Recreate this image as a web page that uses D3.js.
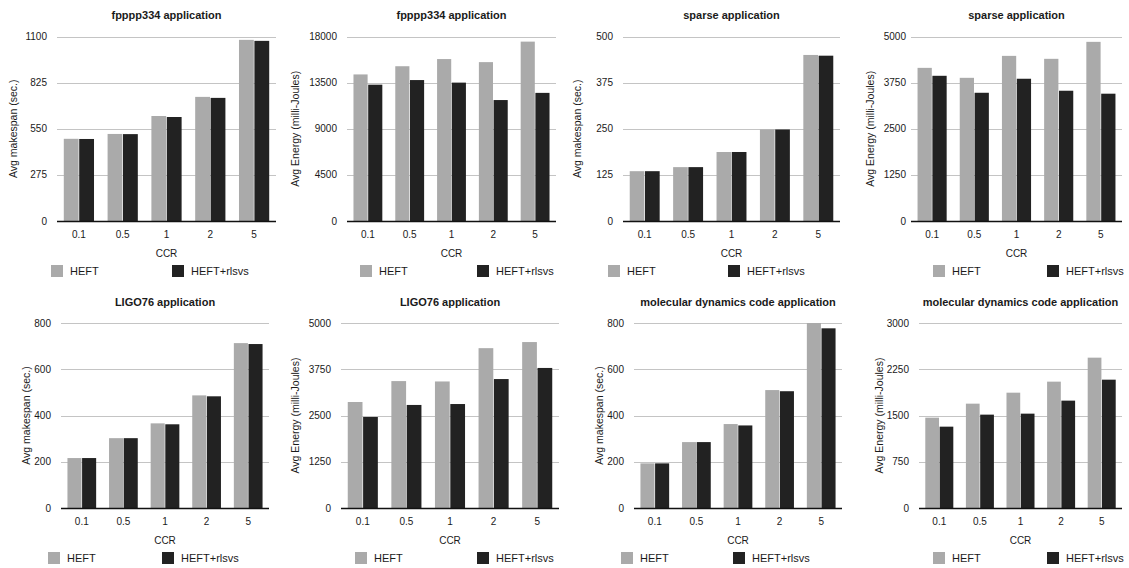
<!DOCTYPE html>
<html>
<head>
<meta charset="utf-8">
<script src="https://cdn.jsdelivr.net/npm/d3@7"></script>
<style>
  html, body { margin: 0; padding: 0; background: #fff; }
  svg text { font-family: "Liberation Sans", Arial, Helvetica, sans-serif; fill: #1a1a1a; }
</style>
</head>
<body>
<script>
const width = 1129;
const height = 568;

// data
const ccr = ['0.1', '0.5', '1', '2', '5'];
const seriesNames = ['HEFT', 'HEFT+rlsvs'];
const seriesColors = ['#aaaaaa', '#222222'];

const titles = [
    'fpppp334 application', 'fpppp334 application',
    'sparse application', 'sparse application',
    'LIGO76 application', 'LIGO76 application',
    'molecular dynamics code application', 'molecular dynamics code application'
];
const yTitles = [
    'Avg makespan (sec.)', 'Avg Energy (milli-Joules)',
    'Avg makespan (sec.)', 'Avg Energy (milli-Joules)',
    'Avg makespan (sec.)', 'Avg Energy (milli-Joules)',
    'Avg makespan (sec.)', 'Avg Energy (milli-Joules)'
];
const yTicks = [
    [0, 275, 550, 825, 1100],
    [0, 4500, 9000, 13500, 18000],
    [0, 125, 250, 375, 500],
    [0, 1250, 2500, 3750, 5000],
    [0, 200, 400, 600, 800],
    [0, 1250, 2500, 3750, 5000],
    [0, 200, 400, 600, 800],
    [0, 750, 1500, 2250, 3000]
];

const fppppMakespanHeft = [490, 519, 626, 740, 1080];
const fppppMakespanRlsvs = [489, 518, 620, 734, 1074];
const fppppEnergyHeft = [14300, 15100, 15800, 15500, 17500];
const fppppEnergyRlsvs = [13300, 13750, 13500, 11800, 12500];
const sparseMakespanHeft = [135, 146, 187, 248, 450];
const sparseMakespanRlsvs = [135, 146, 187, 248, 448];
const sparseEnergyHeft = [4150, 3880, 4475, 4395, 4855];
const sparseEnergyRlsvs = [3935, 3475, 3855, 3530, 3450];
const ligoMakespanHeft = [216, 302, 366, 487, 713];
const ligoMakespanRlsvs = [216, 302, 362, 483, 709];
const ligoEnergyHeft = [2865, 3430, 3420, 4320, 4485];
const ligoEnergyRlsvs = [2460, 2785, 2810, 3485, 3785];
const mdMakespanHeft = [193, 285, 363, 510, 800];
const mdMakespanRlsvs = [193, 285, 357, 505, 777];
const mdEnergyHeft = [1465, 1692, 1870, 2049, 2438];
const mdEnergyRlsvs = [1319, 1514, 1530, 1741, 2081];

const panelSeries = [
    [fppppMakespanHeft, fppppMakespanRlsvs],
    [fppppEnergyHeft, fppppEnergyRlsvs],
    [sparseMakespanHeft, sparseMakespanRlsvs],
    [sparseEnergyHeft, sparseEnergyRlsvs],
    [ligoMakespanHeft, ligoMakespanRlsvs],
    [ligoEnergyHeft, ligoEnergyRlsvs],
    [mdMakespanHeft, mdMakespanRlsvs],
    [mdEnergyHeft, mdEnergyRlsvs]
];

// where each panel sits on the page
const layout = [
    { left: 57, right: 276, top: 36.5, bottom: 221, tickGap: 10, yLabX: 13, legX: [51, 172] },
    { left: 347, right: 556, top: 36.5, bottom: 221, tickGap: 10, yLabX: 295, legX: [360, 477] },
    { left: 623, right: 840, top: 36.5, bottom: 221, tickGap: 10, yLabX: 577, legX: [608, 728] },
    { left: 911, right: 1122, top: 36.5, bottom: 221, tickGap: 5, yLabX: 870, legX: [933, 1047] },
    { left: 61, right: 269, top: 323, bottom: 508, tickGap: 10, yLabX: 26, legX: [48, 162] },
    { left: 341, right: 559, top: 323, bottom: 508, tickGap: 10, yLabX: 295, legX: [355, 477] },
    { left: 634, right: 842, top: 323, bottom: 508, tickGap: 10, yLabX: 599, legX: [621, 733] },
    { left: 919, right: 1122, top: 323, bottom: 508, tickGap: 10, yLabX: 879, legX: [933, 1047] }
];

const svg = d3.select('body')
    .append('svg')
    .attr('width', width)
    .attr('height', height);

layout.forEach((p, i) => {
    const g = svg.append('g').attr('class', 'panel panel' + i);
    const ticks = yTicks[i];

    const x = d3.scaleBand()
        .domain(ccr)
        .range([p.left, p.right])
        .paddingInner(0.31)
        .paddingOuter(0.155);
    const xInner = d3.scaleBand()
        .domain(seriesNames)
        .range([0, x.bandwidth()])
        .paddingInner(0.04);
    const y = d3.scaleLinear()
        .domain([0, ticks[ticks.length - 1]])
        .range([p.bottom, p.top]);

    // gridlines
    g.append('g')
        .selectAll('line')
        .data(ticks.slice(1))
        .enter()
        .append('line')
        .attr('x1', p.left)
        .attr('x2', p.right)
        .attr('y1', d => Math.round(y(d)) + 0.5)
        .attr('y2', d => Math.round(y(d)) + 0.5)
        .attr('stroke', '#c4c4c4')
        .attr('stroke-width', 1);

    // y tick labels
    g.append('g')
        .selectAll('text')
        .data(ticks)
        .enter()
        .append('text')
        .attr('x', p.left - p.tickGap)
        .attr('y', d => y(d))
        .attr('dy', '0.35em')
        .attr('text-anchor', 'end')
        .style('font-size', '10px')
        .text(d => d);

    // bars
    const rows = ccr.map((c, k) => ({ c, vals: panelSeries[i].map(s => s[k]) }));
    g.append('g')
        .selectAll('g')
        .data(rows)
        .enter()
        .append('g')
        .attr('transform', d => `translate(${x(d.c)},0)`)
        .selectAll('rect')
        .data(d => d.vals.map((v, s) => ({ v, s })))
        .enter()
        .append('rect')
        .attr('x', d => xInner(seriesNames[d.s]))
        .attr('width', xInner.bandwidth())
        .attr('y', d => y(d.v))
        .attr('height', d => y(0) - y(d.v))
        .attr('fill', d => seriesColors[d.s]);

    // baseline
    g.append('line')
        .attr('x1', p.left)
        .attr('x2', p.right)
        .attr('y1', Math.round(y(0)) + 0.5)
        .attr('y2', Math.round(y(0)) + 0.5)
        .attr('stroke', '#111')
        .attr('stroke-width', 1.3);

    // x tick labels
    g.append('g')
        .selectAll('text')
        .data(ccr)
        .enter()
        .append('text')
        .attr('x', d => x(d) + x.bandwidth() / 2)
        .attr('y', p.bottom + 13)
        .attr('dy', '0.35em')
        .attr('text-anchor', 'middle')
        .style('font-size', '10px')
        .text(d => d);

    // axis titles
    g.append('text')
        .attr('x', (p.left + p.right) / 2)
        .attr('y', p.bottom + 32.5)
        .attr('dy', '0.35em')
        .attr('text-anchor', 'middle')
        .style('font-size', '10px')
        .text('CCR');

    g.append('text')
        .attr('transform', `translate(${p.yLabX}, ${(p.top + p.bottom) / 2}) rotate(-90)`)
        .attr('dy', '0.35em')
        .attr('text-anchor', 'middle')
        .style('font-size', '10.5px')
        .text(yTitles[i]);

    // chart title
    g.append('text')
        .attr('x', (p.left + p.right) / 2)
        .attr('y', p.top - 21)
        .attr('dy', '0.35em')
        .attr('text-anchor', 'middle')
        .style('font-size', '11px')
        .style('font-weight', 'bold')
        .text(titles[i]);

    // legend
    seriesNames.forEach((name, s) => {
        g.append('rect')
            .attr('x', p.legX[s])
            .attr('y', p.bottom + 44)
            .attr('width', 12)
            .attr('height', 12)
            .attr('fill', seriesColors[s]);
        g.append('text')
            .attr('x', p.legX[s] + 19)
            .attr('y', p.bottom + 50)
            .attr('dy', '0.35em')
            .style('font-size', '11px')
            .text(name);
    });
});
</script>
</body>
</html>
